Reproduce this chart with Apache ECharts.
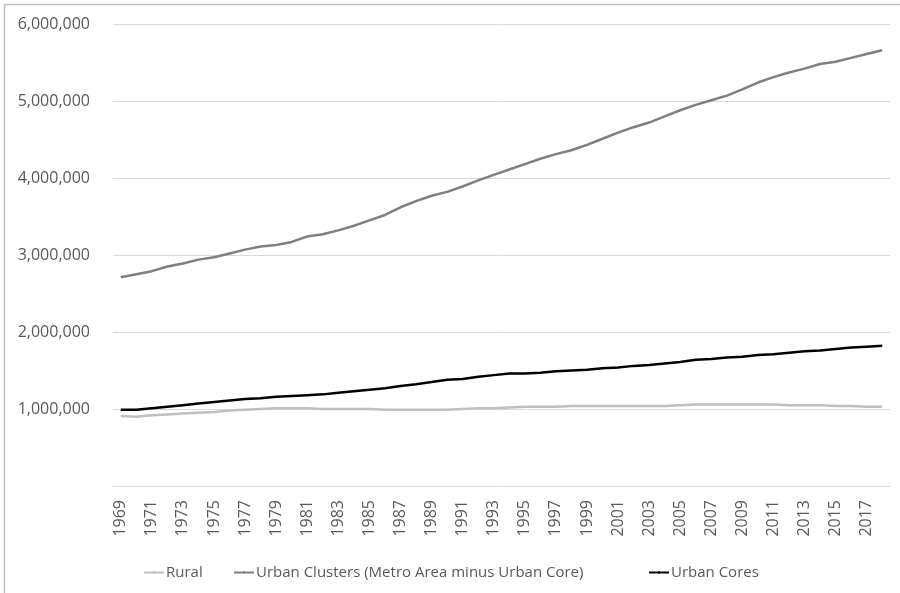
<!DOCTYPE html>
<html>
<head>
<meta charset="utf-8">
<style>
  html, body { margin: 0; padding: 0; background: #fff; }
  #chart { width: 900px; height: 593px; }
</style>
<script src="https://cdn.jsdelivr.net/npm/echarts@6/dist/echarts.min.js"></script>
</head>
<body>
<div id="chart"></div>
<script>
// Population by area type, 1969-2018
const years = [];
for (let y = 1969; y <= 2018; y++) years.push(String(y));

const rural = [
  910000, 900000, 920000, 930000, 940000, 950000, 960000, 980000, 990000, 1000000,
  1010000, 1010000, 1010000, 1000000, 1000000, 1000000, 1000000, 990000, 990000, 990000,
  990000, 990000, 1000000, 1010000, 1010000, 1020000, 1030000, 1030000, 1030000, 1040000,
  1040000, 1040000, 1040000, 1040000, 1040000, 1040000, 1050000, 1060000, 1060000, 1060000,
  1060000, 1060000, 1060000, 1050000, 1050000, 1050000, 1040000, 1040000, 1030000, 1030000
];

const urbanClusters = [
  2710000, 2750000, 2790000, 2850000, 2890000, 2940000, 2970000, 3020000, 3070000, 3110000,
  3130000, 3170000, 3240000, 3270000, 3320000, 3380000, 3450000, 3520000, 3620000, 3700000,
  3770000, 3820000, 3890000, 3970000, 4040000, 4110000, 4180000, 4250000, 4310000, 4360000,
  4430000, 4510000, 4590000, 4660000, 4720000, 4800000, 4880000, 4950000, 5010000, 5070000,
  5150000, 5240000, 5310000, 5370000, 5420000, 5480000, 5510000, 5560000, 5610000, 5660000
];

const urbanCores = [
  990000, 990000, 1010000, 1030000, 1050000, 1070000, 1090000, 1110000, 1130000, 1140000,
  1160000, 1170000, 1180000, 1190000, 1210000, 1230000, 1250000, 1270000, 1300000, 1320000,
  1350000, 1380000, 1390000, 1420000, 1440000, 1460000, 1460000, 1470000, 1490000, 1500000,
  1510000, 1530000, 1540000, 1560000, 1570000, 1590000, 1610000, 1640000, 1650000, 1670000,
  1680000, 1700000, 1710000, 1730000, 1750000, 1760000, 1780000, 1800000, 1810000, 1820000
];

const seriesNames = ['Rural', 'Urban Clusters (Metro Area minus Urban Core)', 'Urban Cores'];
const seriesColors = ['#BFBFBF', '#7F7F7F', '#000000'];

const FONT = '"Open Sans", "Liberation Sans", sans-serif';
const TEXT = '#595959';

const chart = echarts.init(document.getElementById('chart'), null, { renderer: 'canvas' });

function lineSeries(name, data, color) {
  return {
    name: name,
    type: 'line',
    data: data,
    symbol: 'none',
    smooth: false,
    lineStyle: { color: color, width: 2.5 },
    itemStyle: { color: color },
    emphasis: { disabled: true }
  };
}

// one legend block per entry so each entry sits in its own slot
const legendLefts = [143, 233, 648];
const legends = seriesNames.map(function (name, i) {
  return {
    left: legendLefts[i],
    bottom: 13,
    padding: 0,
    itemWidth: 20,
    itemHeight: 3,
    textStyle: { color: TEXT, fontSize: 15, fontFamily: FONT, padding: [0, 0, 0, -3] },
    data: [name]
  };
});

chart.setOption({
  animation: false,
  backgroundColor: '#ffffff',
  graphic: [{
    type: 'rect',
    shape: { x: 4.5, y: 4.5, width: 1200, height: 1200 },
    style: { fill: 'none', stroke: '#BFBFBF', lineWidth: 1.5 },
    silent: true
  }],
  grid: { left: 113, right: 10, top: 24, bottom: 107, containLabel: false },
  legend: legends,
  xAxis: {
    type: 'category',
    data: years,
    boundaryGap: true,
    axisLine: { show: true, lineStyle: { color: '#D9D9D9', width: 1 } },
    axisTick: { show: false },
    axisLabel: {
      interval: 1,
      rotate: 90,
      margin: 14,
      color: TEXT,
      fontSize: 16,
      fontFamily: FONT
    },
    splitLine: { show: false }
  },
  yAxis: {
    type: 'value',
    min: 0,
    max: 6000000,
    interval: 1000000,
    axisLine: { show: false },
    axisTick: { show: false },
    axisLabel: {
      margin: 23,
      color: TEXT,
      fontSize: 16,
      fontFamily: FONT,
      formatter: function (v) { return v === 0 ? '' : v.toLocaleString('en-US'); }
    },
    splitLine: { lineStyle: { color: '#D9D9D9', width: 1 } }
  },
  series: [
    lineSeries(seriesNames[0], rural, seriesColors[0]),
    lineSeries(seriesNames[1], urbanClusters, seriesColors[1]),
    lineSeries(seriesNames[2], urbanCores, seriesColors[2])
  ]
});
</script>
</body>
</html>
